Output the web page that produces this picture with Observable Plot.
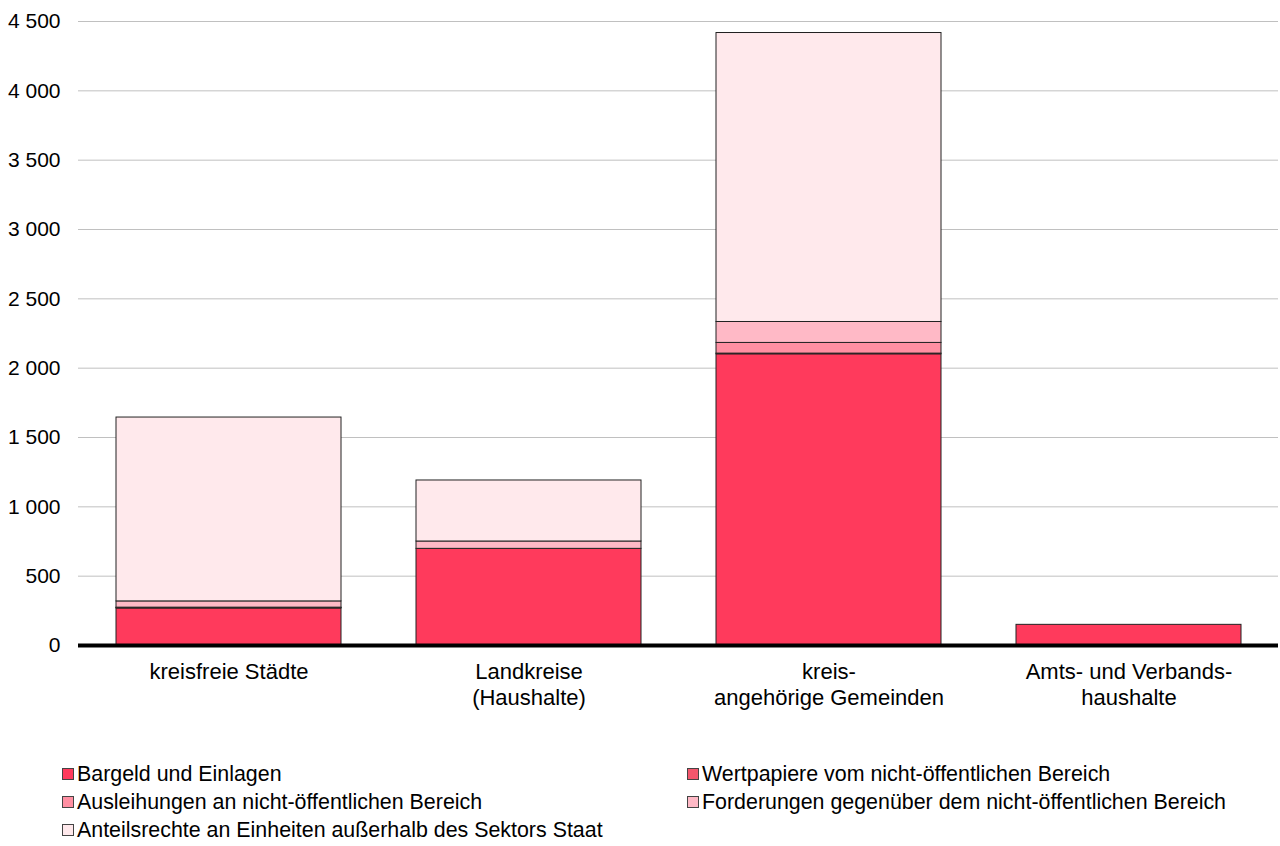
<!DOCTYPE html>
<html>
<head>
<meta charset="utf-8">
<script src="https://cdn.jsdelivr.net/npm/d3@7"></script>
<script src="https://cdn.jsdelivr.net/npm/@observablehq/plot@0.6"></script>
<style>
  body { margin: 0; background: #fff; font-family: "Liberation Sans", Arial, sans-serif; }
  #chart svg { display: block; }
  .legend { position: relative; height: 120px; font-size: 21.4px; color: #000; }
  .item { position: absolute; display: flex; align-items: center; white-space: nowrap; line-height: 24px; }
  .sw { width: 12px; height: 12px; border: 1px solid #444; box-sizing: border-box; margin-right: 3px; }
</style>
</head>
<body>
<div id="chart"></div>
<div class="legend" id="legend"></div>
<script>
const categories = ["kreisfreie Städte", "Landkreise\n(Haushalte)", "kreis-\nangehörige Gemeinden", "Amts- und Verbands-\nhaushalte"];
const seriesNames = ["Bargeld und Einlagen", "Wertpapiere vom nicht-öffentlichen Bereich", "Ausleihungen an nicht-öffentlichen Bereich", "Forderungen gegenüber dem nicht-öffentlichen Bereich", "Anteilsrechte an Einheiten außerhalb des Sektors Staat"];
const colors = ["#FF3A5C", "#F2566C", "#FF8FA2", "#FFB9C6", "#FFE9EC"];
const bargeld = [267, 697, 2100, 149];
const wertpapiere = [3, 0, 5, 0];
const ausleihungen = [3, 0, 77, 0];
const forderungen = [45, 53, 151, 0];
const anteilsrechte = [1326, 440, 2084, 0];
const yTicks = [0, 500, 1000, 1500, 2000, 2500, 3000, 3500, 4000, 4500];

const seriesValues = [bargeld, wertpapiere, ausleihungen, forderungen, anteilsrechte];
const data = [];
seriesNames.forEach((s, i) => categories.forEach((c, j) => {
  if (seriesValues[i][j] > 0) data.push({cat: c, series: s, value: seriesValues[i][j]});
}));

const fmt = d => d3.format(",")(d).replace(/,/g, " ");

const chart = Plot.plot({
  width: 1280,
  height: 720,
  marginTop: 21,
  marginBottom: 75,
  marginLeft: 78,
  marginRight: 2,
  style: { fontFamily: '"Liberation Sans", Arial, sans-serif', fontSize: "21px", color: "#000", background: "#fff" },
  x: { domain: categories, paddingInner: 0.25, paddingOuter: 0.125, label: null },
  y: { domain: [0, 4500], ticks: yTicks, label: null },
  color: { domain: seriesNames, range: colors },
  marks: [
    Plot.gridY(yTicks.filter(d => d > 0), { stroke: "#c0c0c0", strokeOpacity: 1, strokeWidth: 1 }),
    Plot.axisY({ ticks: yTicks, tickSize: 0, tickPadding: 18, tickFormat: fmt, fontSize: 21, label: null }),
    Plot.barY(data, Plot.stackY({ x: "cat", y: "value", fill: "series", order: seriesNames, stroke: "#222", strokeWidth: 1 })),
    Plot.axisX({ tickSize: 0, tickPadding: 16, fontSize: 22, lineHeight: 1.15, label: null }),
    Plot.ruleY([0], { stroke: "#000", strokeWidth: 4 })
  ]
});
document.getElementById("chart").appendChild(chart);

const legend = document.getElementById("legend");
const positions = [[62, 54], [687, 54], [62, 82], [687, 82], [62, 110]];
seriesNames.forEach((s, i) => {
  const el = document.createElement("div");
  el.className = "item";
  el.style.left = positions[i][0] + "px";
  el.style.top = (positions[i][1] - 12) + "px";
  el.innerHTML = `<span class="sw" style="background:${colors[i]}"></span><span>${s}</span>`;
  legend.appendChild(el);
});
</script>
</body>
</html>
